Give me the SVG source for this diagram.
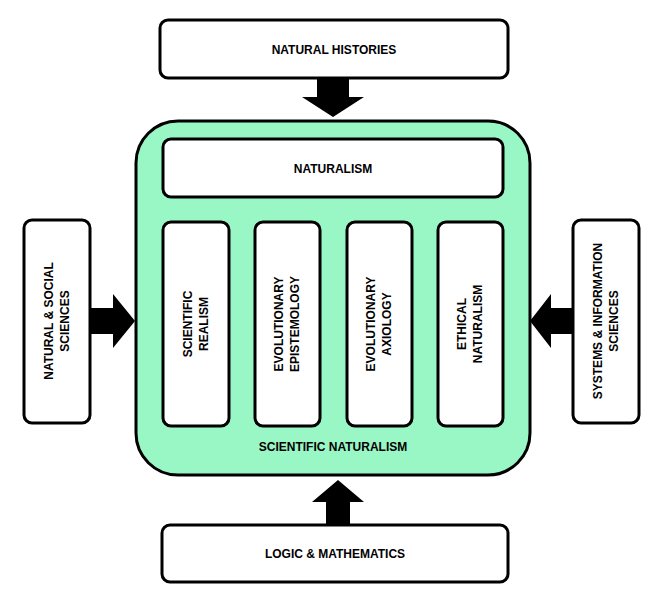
<svg xmlns="http://www.w3.org/2000/svg" width="668" height="607" viewBox="0 0 668 607">
<style>
.b{fill:#fff;stroke:#000;stroke-width:3}
.t{font-family:"Liberation Sans",Arial,sans-serif;font-weight:bold;font-size:12px;text-anchor:middle;fill:#000}
</style>
<rect width="668" height="607" fill="#fff"/>
<g id="connectors" fill="#000">
<polygon points="317,78 349,78 349,97 364,97 333,117 302,97 317,97"/>
<polygon points="91,308 113,308 113,294 135,321 113,348 113,334 91,334"/>
<polygon points="573,308 551,308 551,294 530,321 551,348 551,334 573,334"/>
<polygon points="326,525 350,525 350,502 364,502 338,480 312,502 326,502"/>
</g>
<g id="scientific-naturalism"><rect x="136" y="121" width="394" height="354" rx="42" fill="#99f7c6" stroke="#000" stroke-width="3"/>
<text class="t" x="333" y="451">SCIENTIFIC  NATURALISM</text></g>
<g id="natural-histories"><rect class="b" x="160" y="20" width="348" height="58" rx="8"/><text class="t" x="334" y="54">NATURAL HISTORIES</text></g>
<g id="naturalism"><rect class="b" x="163" y="139" width="340" height="58" rx="8"/><text class="t" x="333" y="173">NATURALISM</text></g>
<g id="scientific-realism"><rect class="b" x="163" y="222" width="66" height="204" rx="8"/><text class="t" transform="translate(196,324) rotate(-90)"><tspan x="0" y="-4">SCIENTIFIC</tspan><tspan x="0" y="12">REALISM</tspan></text></g>
<g id="evolutionary-epistemology"><rect class="b" x="255" y="222" width="65" height="204" rx="8"/><text class="t" transform="translate(287,324) rotate(-90)"><tspan x="0" y="-4">EVOLUTIONARY</tspan><tspan x="0" y="12">EPISTEMOLOGY</tspan></text></g>
<g id="evolutionary-axiology"><rect class="b" x="347" y="222" width="65" height="204" rx="8"/><text class="t" transform="translate(379,324) rotate(-90)"><tspan x="0" y="-4">EVOLUTIONARY</tspan><tspan x="0" y="12">AXIOLOGY</tspan></text></g>
<g id="ethical-naturalism"><rect class="b" x="438" y="222" width="65" height="204" rx="8"/><text class="t" transform="translate(470,324) rotate(-90)"><tspan x="0" y="-4">ETHICAL</tspan><tspan x="0" y="12">NATURALISM</tspan></text></g>
<g id="natural-social-sciences"><rect class="b" x="24" y="220" width="66" height="203" rx="8"/><text class="t" transform="translate(57,321) rotate(-90)"><tspan x="0" y="-4">NATURAL &amp; SOCIAL</tspan><tspan x="0" y="12">SCIENCES</tspan></text></g>
<g id="systems-information-sciences"><rect class="b" x="573" y="220" width="66" height="203" rx="8"/><text class="t" transform="translate(606,321) rotate(-90)"><tspan x="0" y="-4">SYSTEMS &amp; INFORMATION</tspan><tspan x="0" y="12">SCIENCES</tspan></text></g>
<g id="logic-mathematics"><rect class="b" x="162" y="525" width="346" height="57" rx="8"/><text class="t" x="335" y="558">LOGIC &amp; MATHEMATICS</text></g>
</svg>
